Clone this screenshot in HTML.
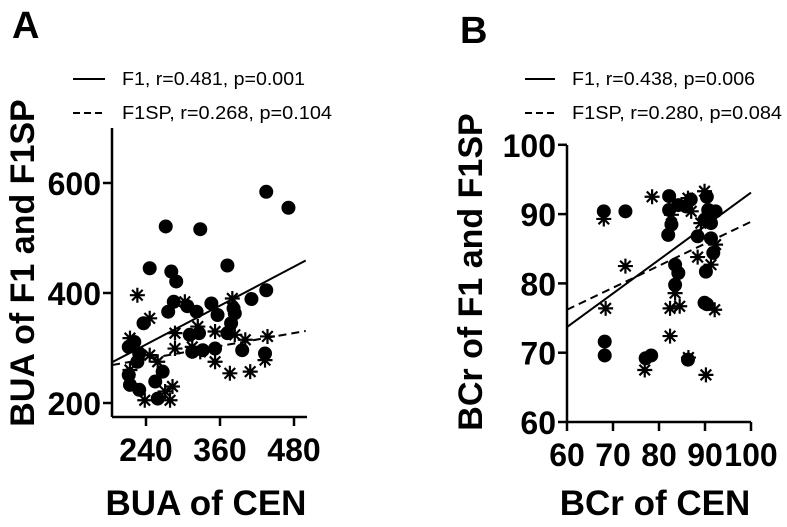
<!DOCTYPE html>
<html><head><meta charset="utf-8"><style>
html,body{margin:0;padding:0;background:#fff;}
svg{display:block;font-family:"Liberation Sans",Arial,sans-serif;}
</style></head><body>
<svg id="fig" width="787" height="527" viewBox="0 0 787 527">
<text x="12" y="38" font-size="38" font-weight="bold">A</text>
<text x="460" y="43" font-size="38" font-weight="bold">B</text>
<g>
<line x1="73" y1="79" x2="105" y2="79" stroke="#000" stroke-width="2"/>
<text x="122" y="85" font-size="18" textLength="183" lengthAdjust="spacingAndGlyphs">F1, r=0.481, p=0.001</text>
<line x1="73" y1="113" x2="105" y2="113" stroke="#000" stroke-width="2" stroke-dasharray="7,4"/>
<text x="122" y="119" font-size="18" textLength="210" lengthAdjust="spacingAndGlyphs">F1SP, r=0.268, p=0.104</text>
</g>
<g>
<line x1="525" y1="79" x2="555" y2="79" stroke="#000" stroke-width="2"/>
<text x="572" y="85" font-size="18" textLength="183" lengthAdjust="spacingAndGlyphs">F1, r=0.438, p=0.006</text>
<line x1="525" y1="113" x2="555" y2="113" stroke="#000" stroke-width="2" stroke-dasharray="7,4"/>
<text x="572" y="119" font-size="18" textLength="210" lengthAdjust="spacingAndGlyphs">F1SP, r=0.280, p=0.084</text>
</g>
<text transform="translate(34,263) rotate(-90)" text-anchor="middle" font-size="34" font-weight="bold">BUA of F1 and F1SP</text>
<text transform="translate(482,272) rotate(-90)" text-anchor="middle" font-size="34" font-weight="bold">BCr of F1 and F1SP</text>
<text x="206" y="515" text-anchor="middle" font-size="35" font-weight="bold">BUA of CEN</text>
<text x="655" y="515" text-anchor="middle" font-size="35" font-weight="bold">BCr of CEN</text>
<g id="pa"></g>
<g id="pb"></g>
</svg>
<script>
// Panel A data
const aXTicks = [240, 360, 480];
const aYTicks = [200, 400, 600];
const aF1 = [[435,584],[471,555],[272,521],[328,516],[246,445],[281,439],[289,421],[372,450],[435,405],[411,389],[285,384],[276,366],[236,345],[307,376],[322,366],[346,381],[356,360],[382,372],[384,363],[378,345],[372,327],[326,327],[311,324],[396,296],[433,290],[352,299],[212,302],[221,311],[229,290],[214,233],[229,224],[255,239],[267,257],[259,208],[212,251],[315,293],[332,296],[226,275]];
const aF1SP = [[226,396],[246,354],[303,384],[287,327],[214,318],[246,287],[214,260],[259,275],[380,390],[287,299],[238,205],[279,205],[283,230],[271,221],[352,275],[376,254],[409,257],[433,278],[437,321],[384,324],[401,315],[352,330],[328,293],[324,339],[315,302]];
const aFitF1 = [[185,274],[499,459]];
const aFitF1SP = [[185,269],[499,331]];
// Panel B data
const bXTicks = [60, 70, 80, 90, 100];
const bYTicks = [60, 70, 80, 90, 100];
const bF1 = [[68.0,90.4],[72.7,90.4],[68.2,71.6],[68.2,69.6],[77.1,69.2],[78.3,69.6],[86.3,69.0],[82.2,92.6],[82.2,90.6],[82.7,88.5],[82.0,87.0],[84.2,91.3],[86.9,92.1],[85.9,91.1],[90.4,92.5],[90.7,90.6],[92.3,90.4],[89.9,89.2],[91.3,88.7],[88.4,86.8],[91.3,86.5],[91.8,84.4],[83.5,82.7],[84.2,81.5],[83.5,79.8],[90.2,81.7],[89.9,77.2],[90.4,77.0]];
const bF1SP = [[78.5,92.5],[68.0,89.3],[72.7,82.5],[68.4,76.4],[82.4,76.4],[84.5,76.7],[83.5,78.6],[82.4,72.4],[76.9,67.5],[86.4,69.3],[90.2,66.8],[92.1,76.2],[88.4,83.8],[91.3,82.7],[92.3,85.6],[86.3,92.3],[89.9,93.3],[87.0,90.4],[89.1,88.7],[82.7,89.9]];
const bFitF1 = [[60,73.7],[100,93.1]];
const bFitF1SP = [[60,76.2],[100,88.9]];

const NS = "http://www.w3.org/2000/svg";
function mk(parent, tag, attrs){ const e=document.createElementNS(NS,tag); for(const k in attrs) e.setAttribute(k,attrs[k]); parent.appendChild(e); return e; }

function panel(g, cfg){
  const sx = v => cfg.x0 + (v - cfg.xv0) * cfg.kx;
  const sy = v => cfg.y0 - (v - cfg.yv0) * cfg.ky;
  let e = mk(g,'line',{x1:cfg.axL,y1:cfg.axB,x2:cfg.axR,y2:cfg.axB,stroke:'#000','stroke-width':2.5});
  
  
  e = mk(g,'line',{x1:cfg.axL,y1:cfg.axT,x2:cfg.axL,y2:cfg.axB,stroke:'#000','stroke-width':2.5});
  
  
  cfg.xt.forEach(v=>{
    const x=sx(v);
    let t=mk(g,'line',{x1:x,y1:cfg.axB,x2:x,y2:cfg.axB+9,stroke:'#000','stroke-width':2.5});
    
    
    let l=mk(g,'text',{x:x,y:cfg.axB+44,'text-anchor':'middle','font-size':32,'font-weight':'bold'});
    l.textContent=v;
    
    
  });
  cfg.yt.forEach(v=>{
    const y=sy(v);
    let t=mk(g,'line',{x1:cfg.axL-9,y1:y,x2:cfg.axL,y2:y,stroke:'#000','stroke-width':2.5});
    
    
    let l=mk(g,'text',{x:cfg.axL-11,y:y+12,'text-anchor':'end','font-size':32,'font-weight':'bold'});
    l.textContent=v;
    
    
  });
  cfg.f1.forEach(p=>{
    const c=mk(g,'circle',{cx:sx(p[0]),cy:sy(p[1]),r:7,fill:'#000'});
    
    
  });
  cfg.sp.forEach(p=>{
    const cx=sx(p[0]), cy=sy(p[1]), r=7.5;
    let d='';
    for(let i=0;i<4;i++){ const a=i*Math.PI/4; const dx=r*Math.cos(a), dy=r*Math.sin(a); d+=`M${cx-dx},${cy-dy}L${cx+dx},${cy+dy}`; }
    const s=mk(g,'path',{d:d,stroke:'#000','stroke-width':2.2,fill:'none'});
    
    
  });
  let f=mk(g,'line',{x1:sx(cfg.fit1[0][0]),y1:sy(cfg.fit1[0][1]),x2:sx(cfg.fit1[1][0]),y2:sy(cfg.fit1[1][1]),stroke:'#000','stroke-width':2});
  
  
  f=mk(g,'line',{x1:sx(cfg.fit2[0][0]),y1:sy(cfg.fit2[0][1]),x2:sx(cfg.fit2[1][0]),y2:sy(cfg.fit2[1][1]),stroke:'#000','stroke-width':2,'stroke-dasharray':'8,5'});
  
  
}
panel(document.getElementById('pa'),{x0:146,xv0:240,kx:74/120,y0:403,yv0:200,ky:110/200,axL:112,axR:307,axT:128,axB:417,xt:aXTicks,yt:aYTicks,f1:aF1,sp:aF1SP,fit1:aFitF1,fit2:aFitF1SP});
panel(document.getElementById('pb'),{x0:567,xv0:60,kx:4.6,y0:422,yv0:60,ky:6.93,axL:567,axR:751,axT:145,axB:422,xt:bXTicks,yt:bYTicks,f1:bF1,sp:bF1SP,fit1:bFitF1,fit2:bFitF1SP});
</script>
</body></html>
